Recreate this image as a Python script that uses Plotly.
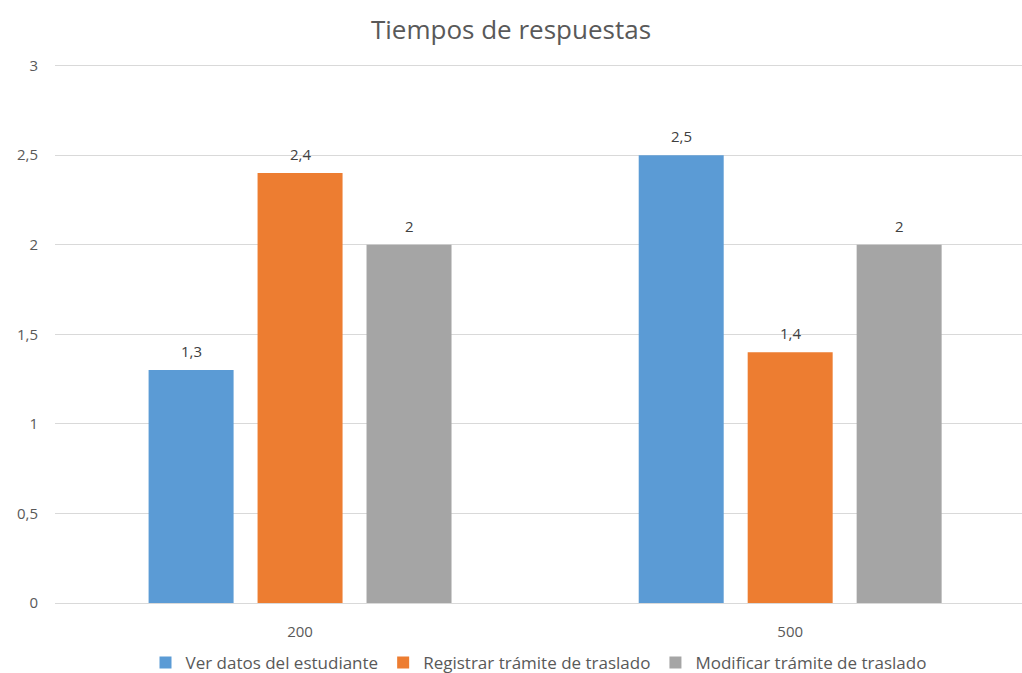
import plotly.graph_objects as go

# Response times (seconds) per load level
categories = ["200", "500"]
series_names = [
    "Ver datos del estudiante",
    "Registrar trámite de traslado",
    "Modificar trámite de traslado",
]
ver_datos = [1.3, 2.5]
registrar = [2.4, 1.4]
modificar = [2.0, 2.0]
y_ticks = [0, 0.5, 1, 1.5, 2, 2.5, 3]

colors = ["#5B9BD5", "#ED7D31", "#A5A5A5"]
FONT = "Open Sans"
SLOT_PX = 109  # horizontal distance between neighbouring bars of a group

positions = list(range(len(categories)))


def fmt(v):
    return f"{v:g}".replace(".", ",")


fig = go.Figure()
all_series = [ver_datos, registrar, modificar]
for name, vals, col in zip(series_names, all_series, colors):
    fig.add_trace(go.Bar(
        name=name,
        x=positions,
        y=vals,
        marker=dict(color=col, line=dict(width=0)),
    ))

# value labels above each bar
for i, vals in enumerate(all_series):
    for pos, v in zip(positions, vals):
        fig.add_annotation(
            x=pos, y=v, xref="x", yref="y",
            text=fmt(v), showarrow=False,
            xshift=(i - 1) * SLOT_PX, yshift=7,
            yanchor="bottom",
            font=dict(family=FONT, size=15, color="#404040"),
        )

fig.update_layout(
    width=1022,
    height=673,
    margin=dict(l=55, r=0, t=62, b=70, autoexpand=False),
    paper_bgcolor="white",
    plot_bgcolor="white",
    separators=",.",
    barmode="group",
    bargap=0.333,
    bargroupgap=0.22,
    font=dict(family=FONT, color="#595959"),
    title=dict(
        text="Tiempos de respuestas",
        x=0.5, xanchor="center",
        y=1 - 30 / 673, yanchor="middle",
        font=dict(family=FONT, size=26, color="#595959"),
    ),
    legend=dict(
        orientation="h",
        x=0.5, xanchor="center",
        y=-0.111, yanchor="middle",
        font=dict(family=FONT, size=17, color="#595959"),
        itemwidth=30,
    ),
    xaxis=dict(
        range=[-0.5, 1.473],
        tickvals=positions,
        ticktext=categories,
        showgrid=False,
        showline=False,
        zeroline=False,
        ticks="",
        ticklabelstandoff=18,
        tickfont=dict(family=FONT, size=15, color="#595959"),
    ),
    yaxis=dict(
        range=[0, 3.02],
        tickvals=y_ticks,
        ticktext=[fmt(v) for v in y_ticks],
        showgrid=True,
        gridcolor="#D9D9D9",
        gridwidth=1,
        zeroline=True,
        zerolinecolor="#D9D9D9",
        zerolinewidth=1,
        showline=False,
        ticks="",
        ticklabelstandoff=16,
        tickfont=dict(family=FONT, size=15, color="#595959"),
    ),
)

fig.write_html("out.html")
